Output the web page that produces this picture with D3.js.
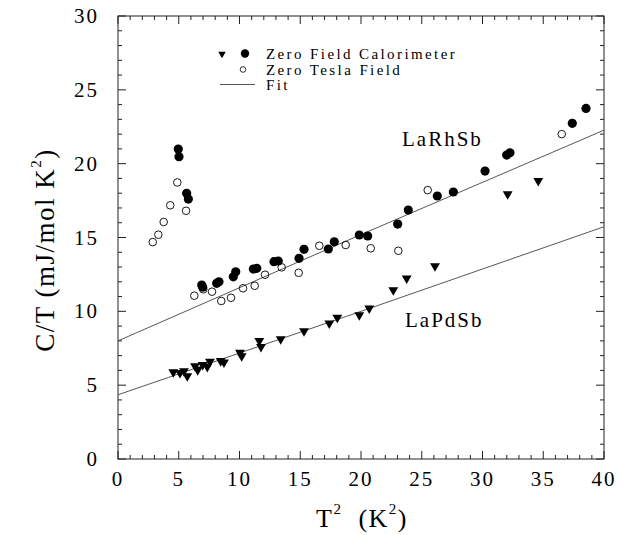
<!DOCTYPE html>
<html><head><meta charset="utf-8">
<script src="https://cdn.jsdelivr.net/npm/d3@7"></script>
<style>body{margin:0;background:#fff}svg{display:block}</style>
</head><body>
<script>
// ---- data ----
const xTicks = [0,5,10,15,20,25,30,35,40];
const yTicks = [0,5,10,15,20,25,30];
// Zero Field Calorimeter, LaRhSb (filled circles)
const rhCalX = [4.96,5.02,5.65,5.79,6.89,6.97,8.12,8.31,9.49,9.69,11.14,11.42,12.84,13.19,14.90,15.31,17.31,17.80,19.86,20.55,23.02,23.89,26.28,27.60,30.21,31.99,32.26,37.39,38.52];
const rhCalY = [20.99,20.47,17.99,17.60,11.78,11.63,11.90,12.00,12.34,12.68,12.86,12.91,13.36,13.41,13.59,14.20,14.22,14.71,15.17,15.10,15.91,16.86,17.81,18.08,19.50,20.58,20.74,22.73,23.74];
// Zero Tesla Field (open circles)
const rhTeslaX = [2.86,3.32,3.76,4.30,4.88,5.60,6.28,7.02,7.74,8.50,9.30,10.29,11.25,12.10,13.47,14.87,16.57,18.74,20.80,23.07,25.49,36.52];
const rhTeslaY = [14.69,15.19,16.05,17.18,18.73,16.81,11.06,11.49,11.33,10.70,10.92,11.56,11.73,12.48,12.98,12.61,14.44,14.49,14.27,14.10,18.21,22.00];
// Zero Field Calorimeter, LaPdSb (triangles)
const pdCalX = [4.55,5.10,5.43,5.70,6.34,6.56,6.97,7.35,7.57,8.45,8.72,10.04,10.18,11.63,11.77,13.39,15.31,17.39,18.05,19.86,20.68,22.66,23.76,26.09,32.07,34.59];
const pdCalY = [5.89,5.84,5.96,5.62,6.30,6.03,6.38,6.25,6.59,6.64,6.55,7.20,6.97,8.01,7.60,8.12,8.67,9.19,9.57,9.75,10.20,11.44,12.23,13.07,17.94,18.84];
// Fits
const fitX = [0,20,40];
const fitRh = [8.0,15.2,22.27];
const fitPd = [4.35,10.0,15.73];

// ---- chart ----
const W=627,H=535;
const svg=d3.select("body").append("svg").attr("width",W).attr("height",H);
const x=d3.scaleLinear().domain([0,40]).range([118,604]);
const y=d3.scaleLinear().domain([0,30]).range([459,16]);
const font="'Liberation Serif','DejaVu Serif',serif";

// frame
svg.append("rect").attr("x",x(0)).attr("y",y(30)).attr("width",x(40)-x(0)).attr("height",y(0)-y(30))
  .attr("fill","none").attr("stroke","#222").attr("stroke-width",1);

// ticks (inward, all four sides)
const minorX=d3.range(0,41,1), minorY=d3.range(0,31,1);
const tg=svg.append("g").attr("stroke","#222").attr("stroke-width",1);
minorX.forEach(v=>{const L=v%5===0?8:4;
  tg.append("line").attr("x1",x(v)).attr("x2",x(v)).attr("y1",y(0)).attr("y2",y(0)-L);
  tg.append("line").attr("x1",x(v)).attr("x2",x(v)).attr("y1",y(30)).attr("y2",y(30)+L);});
minorY.forEach(v=>{const L=v%5===0?8:4;
  tg.append("line").attr("y1",y(v)).attr("y2",y(v)).attr("x1",x(0)).attr("x2",x(0)+L);
  tg.append("line").attr("y1",y(v)).attr("y2",y(v)).attr("x1",x(40)).attr("x2",x(40)-L);});

// tick labels
svg.append("g").selectAll("text").data(xTicks).join("text")
  .attr("x",d=>x(d)).attr("y",486).attr("text-anchor","middle")
  .attr("font-family",font).attr("font-size",21).attr("letter-spacing",2).text(d=>d);
svg.append("g").selectAll("text").data(yTicks).join("text")
  .attr("x",99).attr("y",d=>y(d)+7).attr("text-anchor","end")
  .attr("font-family",font).attr("font-size",21).attr("letter-spacing",2).text(d=>d);

// axis titles
const xt=svg.append("text").attr("x",362).attr("y",527).attr("text-anchor","middle")
  .attr("font-family",font).attr("font-size",26).attr("letter-spacing",1.5).attr("xml:space","preserve");
xt.append("tspan").text("T");
xt.append("tspan").attr("dy",-13).attr("font-size",15).text("2");
xt.append("tspan").attr("dy",13).text("  (K");
xt.append("tspan").attr("dy",-13).attr("font-size",15).text("2");
xt.append("tspan").attr("dy",13).text(")");

const yt=svg.append("text").attr("transform","translate(54,250) rotate(-90)").attr("text-anchor","middle")
  .attr("font-family",font).attr("font-size",27).attr("letter-spacing",1.5);
yt.append("tspan").text("C/T (mJ/mol K");
yt.append("tspan").attr("dy",-13).attr("font-size",15).text("2");
yt.append("tspan").attr("dy",13).text(")");

// fit lines
const line=d3.line().x(d=>x(d[0])).y(d=>y(d[1]));
[fitRh,fitPd].forEach(f=>{
  svg.append("path").datum(fitX.map((v,i)=>[v,f[i]])).attr("d",line)
    .attr("fill","none").attr("stroke","#444").attr("stroke-width",0.9);
});

// markers
const tri=d3.symbol().type(d3.symbolTriangle).size(42);
svg.append("g").selectAll("path").data(pdCalX.map((v,i)=>[v,pdCalY[i]])).join("path")
  .attr("d",tri).attr("transform",d=>`translate(${x(d[0])},${y(d[1])}) rotate(180)`).attr("fill","#000");
svg.append("g").selectAll("circle").data(rhTeslaX.map((v,i)=>[v,rhTeslaY[i]])).join("circle")
  .attr("cx",d=>x(d[0])).attr("cy",d=>y(d[1])).attr("r",3.8).attr("fill","none").attr("stroke","#000").attr("stroke-width",0.9);
svg.append("g").selectAll("circle").data(rhCalX.map((v,i)=>[v,rhCalY[i]])).join("circle")
  .attr("cx",d=>x(d[0])).attr("cy",d=>y(d[1])).attr("r",4.6).attr("fill","#000");

// labels
svg.append("text").attr("x",402).attr("y",146).attr("font-family",font).attr("font-size",21).attr("letter-spacing",2).text("LaRhSb");
svg.append("text").attr("x",405).attr("y",327).attr("font-family",font).attr("font-size",21).attr("letter-spacing",2).text("LaPdSb");

// legend
svg.append("path").attr("d",d3.symbol().type(d3.symbolTriangle).size(24)).attr("transform","translate(222,54) rotate(180)").attr("fill","#000");
svg.append("circle").attr("cx",245).attr("cy",53.5).attr("r",4.2).attr("fill","#000");
svg.append("circle").attr("cx",243).attr("cy",69.5).attr("r",2.8).attr("fill","none").attr("stroke","#000").attr("stroke-width",0.8);
svg.append("line").attr("x1",220).attr("x2",255).attr("y1",84.5).attr("y2",84.5).attr("stroke","#444").attr("stroke-width",0.9);
const lt=[["Zero Field Calorimeter",59],["Zero Tesla Field",74.5],["Fit",89.5]];
svg.append("g").selectAll("text").data(lt).join("text").attr("x",266).attr("y",d=>d[1])
  .attr("font-family",font).attr("font-size",15).attr("letter-spacing",2.4).text(d=>d[0]);
</script>
</body></html>
